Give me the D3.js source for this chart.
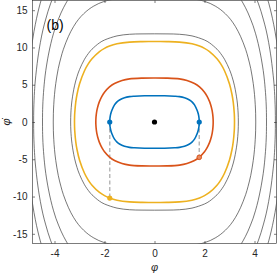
<!DOCTYPE html>
<html>
<head>
<meta charset="utf-8">
<script src="https://cdn.jsdelivr.net/npm/d3@7"></script>
<style>
  body { margin: 0; background: #fff; }
  svg { display: block; font-family: "Liberation Sans", Arial, sans-serif; }
</style>
</head>
<body>
<div id="chart"></div>
<script>
// Each orbit is given for one quadrant only (phi >= 0, dphi >= 0),
// from the top (phi = 0) down to the turning point; the picture is symmetric.
const blueOrbit = [[0, 3.53], [0.4, 3.52], [0.8, 3.46], [1.0, 3.4], [1.2, 3.25], [1.4, 2.95],
  [1.5, 2.7], [1.6, 2.3], [1.7, 1.6], [1.75, 1.1], [1.77, 0.8], [1.785, 0.4], [1.79, 0]];
const redOrbit = [[0, 5.91], [0.5, 5.89], [1.0, 5.78], [1.3, 5.57], [1.6, 5.17], [1.8, 4.71],
  [2.0, 4.0], [2.1, 3.48], [2.2, 2.77], [2.25, 2.29], [2.3, 1.62], [2.33, 0.98], [2.345, 0.35], [2.347, 0]];
const yellowOrbit = [[0, 10.79], [0.5, 10.785], [1.0, 10.72], [1.5, 10.49], [1.8, 10.19], [2.0, 9.88],
  [2.2, 9.45], [2.5, 8.48], [2.65, 7.79], [2.8, 6.88], [3.0, 5.1], [3.1, 3.69], [3.15, 2.65],
  [3.19, 1.21], [3.197, 0.69], [3.2, 0]];

// grey level curves (closed one first, then the ones leaving the frame)
const level1 = [[0, 11.83], [0.5, 11.82], [1.0, 11.77], [1.5, 11.55], [2.0, 11.0], [2.2, 10.62],
  [2.5, 9.77], [2.6, 9.39], [2.8, 8.42], [3.0, 7.03], [3.1, 6.09], [3.2, 4.85], [3.3, 2.93],
  [3.33, 1.95], [3.345, 1.21], [3.354, 0]];
const level2 = [[1.52, 16.54], [1.82, 16.35], [2.025, 16.16], [2.23, 15.9], [2.43, 15.55], [2.63, 15.11],
  [2.835, 14.52], [3.04, 13.77], [3.24, 12.79], [3.44, 11.5], [3.645, 9.75], [3.745, 8.61], [3.85, 7.16],
  [3.95, 5.16], [4.0, 3.69], [4.03, 2.32], [4.045, 1.18], [4.05, 0]];
const level3 = [[3.235, 17.42], [3.44, 16.5], [3.54, 15.95], [3.64, 15.33], [3.74, 14.63], [3.84, 13.83],
  [3.945, 12.91], [4.045, 11.83], [4.145, 10.55], [4.245, 8.98], [4.35, 6.88], [4.4, 5.48], [4.45, 3.46],
  [4.47, 2.14], [4.477, 1.26], [4.48, 0]];
const level4 = [[3.955, 17.51], [4.06, 16.73], [4.16, 15.85], [4.26, 14.85], [4.36, 13.69], [4.465, 12.33],
  [4.565, 10.68], [4.665, 8.58], [4.77, 5.5], [4.8, 4.1], [4.83, 1.73], [4.835, 0]];
const level5 = [[4.465, 17.09], [4.57, 15.94], [4.67, 14.62], [4.77, 13.05], [4.87, 11.14], [4.97, 8.67],
  [5.07, 4.8], [5.12, 0]];

// kicks: phi, dphi before, dphi after
const kicks = [[-1.79, 0, -10.2], [1.79, 0, -4.74]];
const centre = [0, 0];

const xTicks = [-4, -2, 0, 2, 4];
const yTicks = [-15, -10, -5, 0, 5, 10, 15];

const width = 277, height = 274;
const plotL = 32.5, plotR = 276.5, plotT = 0.5, plotB = 243.5;

const svg = d3.select("#chart").append("svg")
  .attr("width", width)
  .attr("height", height);

const x = d3.scaleLinear().domain([-4.88, 4.88]).range([plotL, plotR]);
const y = d3.scaleLinear().domain([-16.3, 16.3]).range([plotB, plotT]);

svg.append("clipPath").attr("id", "plotclip")
  .append("rect")
  .attr("x", plotL).attr("y", plotT)
  .attr("width", plotR - plotL).attr("height", plotB - plotT);

// mirror a quadrant into the right half (top -> turning point -> bottom)
function rightHalf(q) {
  return q.concat(q.slice(0, -1).reverse().map(([a, b]) => [a, -b]));
}
function closedOrbit(q) {
  const r = rightHalf(q);
  const l = r.slice(1, -1).reverse().map(([a, b]) => [-a, b]);
  return r.concat(l);
}

const openLine = d3.line().x(d => x(d[0])).y(d => y(d[1])).curve(d3.curveCatmullRom);
const loopLine = d3.line().x(d => x(d[0])).y(d => y(d[1])).curve(d3.curveCatmullRomClosed);

const plot = svg.append("g").attr("clip-path", "url(#plotclip)");

// grey contours
plot.append("path")
  .attr("d", loopLine(closedOrbit(level1)))
  .attr("fill", "none").attr("stroke", "#3c3c3c").attr("stroke-width", 0.7);

[level2, level3, level4, level5].forEach(q => {
  const r = rightHalf(q);
  [r, r.map(([a, b]) => [-a, b])].forEach(side => {
    plot.append("path")
      .attr("d", openLine(side))
      .attr("fill", "none").attr("stroke", "#3c3c3c").attr("stroke-width", 0.7);
  });
});

// dashed kicks
plot.selectAll(".kick")
  .data(kicks)
  .enter()
  .append("line")
  .attr("class", "kick")
  .attr("x1", d => x(d[0])).attr("x2", d => x(d[0]))
  .attr("y1", d => y(d[1])).attr("y2", d => y(d[2]))
  .attr("stroke", "#b4b4b4")
  .attr("stroke-width", 1.4)
  .attr("stroke-dasharray", "4,2.5");

// coloured orbits
const orbits = [
  { q: yellowOrbit, color: "#EDB120" },
  { q: redOrbit, color: "#D95319" },
  { q: blueOrbit, color: "#0072BD" }
];
orbits.forEach(o => {
  plot.append("path")
    .attr("d", loopLine(closedOrbit(o.q)))
    .attr("fill", "none")
    .attr("stroke", o.color)
    .attr("stroke-width", 1.6);
});

// markers
plot.append("circle")
  .attr("cx", x(centre[0])).attr("cy", y(centre[1]))
  .attr("r", 2.6).attr("fill", "#000");

plot.selectAll(".start")
  .data(kicks)
  .enter()
  .append("circle")
  .attr("cx", d => x(d[0])).attr("cy", d => y(d[1]))
  .attr("r", 2.6).attr("fill", "#0072BD");

plot.append("circle")
  .attr("cx", x(kicks[0][0])).attr("cy", y(kicks[0][2]))
  .attr("r", 2.6).attr("fill", "#EDB120");

plot.append("circle")
  .attr("cx", x(kicks[1][0])).attr("cy", y(kicks[1][2]))
  .attr("r", 2.3).attr("fill", "#e88a60")
  .attr("stroke", "#D95319").attr("stroke-width", 1);

// axes, MATLAB style box with inward ticks
const fmt = d => String(d);
const axisColor = "#262626";

const gx = svg.append("g").attr("transform", `translate(0,${plotB})`)
  .call(d3.axisBottom(x).tickValues(xTicks).tickSize(-2.5).tickPadding(6).tickFormat(fmt));
const gxt = svg.append("g").attr("transform", `translate(0,${plotT})`)
  .call(d3.axisTop(x).tickValues(xTicks).tickSize(-2.5).tickFormat(""));
const gy = svg.append("g").attr("transform", `translate(${plotL},0)`)
  .call(d3.axisLeft(y).tickValues(yTicks).tickSize(-2.5).tickPadding(5).tickFormat(fmt));
const gyr = svg.append("g").attr("transform", `translate(${plotR},0)`)
  .call(d3.axisRight(y).tickValues(yTicks).tickSize(-2.5).tickFormat(""));

[gx, gxt, gy, gyr].forEach(g => {
  g.select(".domain").remove();
  g.selectAll("line").attr("stroke", axisColor).attr("stroke-width", 0.6);
  g.selectAll("text").attr("fill", axisColor).style("font-size", "10px")
    .style("font-family", "'Liberation Sans', Arial, sans-serif");
});

svg.append("rect")
  .attr("x", plotL).attr("y", plotT)
  .attr("width", plotR - plotL).attr("height", plotB - plotT)
  .attr("fill", "none").attr("stroke", axisColor).attr("stroke-width", 0.6);

// axis labels
svg.append("text")
  .attr("x", x(0)).attr("y", 270.5)
  .attr("text-anchor", "middle")
  .style("font-size", "11px").style("font-style", "italic")
  .attr("fill", axisColor)
  .text("φ");

svg.append("text")
  .attr("transform", `translate(10,${y(0)}) rotate(-90)`)
  .attr("text-anchor", "middle")
  .style("font-size", "11px").style("font-style", "italic")
  .attr("fill", axisColor)
  .text("φ̇");

// panel tag
svg.append("text")
  .attr("x", 46.5).attr("y", 30)
  .style("font-size", "14px")
  .attr("fill", "#000")
  .text("(b)");
</script>
</body>
</html>
